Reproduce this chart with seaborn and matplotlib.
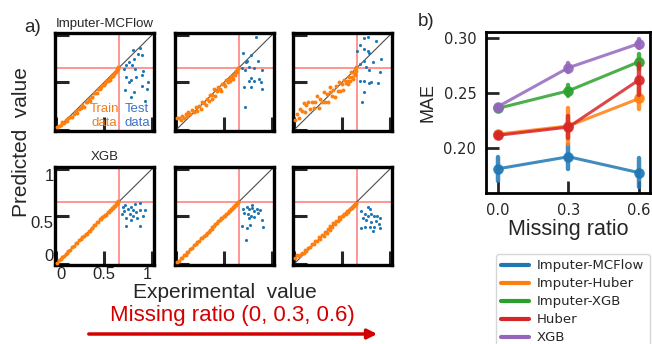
import pandas as pd
import matplotlib
matplotlib.use("Agg")
import matplotlib.pyplot as plt
import seaborn as sns
from matplotlib.lines import Line2D

# =========================
# DATA
# =========================

threshold = 0.655

# panel a) training points (experimental x shared, predicted y per panel)
train_x = [0.01, 0.03, 0.05, 0.06, 0.08, 0.10, 0.12, 0.13, 0.15, 0.17,
           0.19, 0.21, 0.22, 0.24, 0.26, 0.27, 0.29, 0.31, 0.32, 0.34,
           0.35, 0.37, 0.38, 0.40, 0.41, 0.43, 0.44, 0.46, 0.47, 0.48,
           0.50, 0.51, 0.52, 0.54, 0.55, 0.56, 0.57, 0.58, 0.59, 0.60,
           0.61, 0.62, 0.63, 0.64, 0.645, 0.65]

mcflow_00_train = [0.03, 0.04, 0.05, 0.08, 0.07, 0.11, 0.10, 0.13, 0.14, 0.14,
                   0.17, 0.20, 0.18, 0.22, 0.23, 0.26, 0.24, 0.29, 0.29, 0.33,
                   0.31, 0.35, 0.35, 0.39, 0.39, 0.39, 0.43, 0.43, 0.45, 0.47,
                   0.47, 0.49, 0.52, 0.52, 0.54, 0.53, 0.56, 0.58, 0.57, 0.59,
                   0.61, 0.61, 0.64, 0.63, 0.64, 0.66]
mcflow_03_train = [0.13, 0.13, 0.11, 0.15, 0.13, 0.17, 0.15, 0.19, 0.17, 0.21,
                   0.19, 0.24, 0.20, 0.25, 0.22, 0.29, 0.28, 0.26, 0.33, 0.31,
                   0.37, 0.33, 0.37, 0.43, 0.36, 0.41, 0.45, 0.43, 0.41, 0.48,
                   0.48, 0.46, 0.53, 0.51, 0.54, 0.52, 0.57, 0.56, 0.54, 0.59,
                   0.58, 0.62, 0.61, 0.63, 0.65, 0.65]
mcflow_06_train = [0.11, 0.17, 0.13, 0.22, 0.20, 0.28, 0.19, 0.26, 0.30, 0.22,
                   0.29, 0.23, 0.30, 0.36, 0.23, 0.33, 0.30, 0.40, 0.30, 0.38,
                   0.29, 0.40, 0.45, 0.36, 0.42, 0.35, 0.46, 0.41, 0.51, 0.41,
                   0.48, 0.42, 0.53, 0.49, 0.52, 0.48, 0.56, 0.52, 0.61, 0.56,
                   0.54, 0.60, 0.58, 0.64, 0.62, 0.66]
xgb_00_train = [0.01, 0.04, 0.05, 0.07, 0.08, 0.11, 0.12, 0.14, 0.15, 0.18,
                0.19, 0.22, 0.22, 0.25, 0.26, 0.28, 0.29, 0.32, 0.32, 0.35,
                0.35, 0.38, 0.38, 0.41, 0.41, 0.44, 0.44, 0.47, 0.47, 0.49,
                0.50, 0.52, 0.52, 0.55, 0.55, 0.57, 0.57, 0.59, 0.59, 0.61,
                0.61, 0.63, 0.63, 0.65, 0.65, 0.66]
xgb_03_train = [0.02, 0.03, 0.06, 0.06, 0.09, 0.10, 0.13, 0.13, 0.16, 0.17,
                0.20, 0.21, 0.23, 0.24, 0.27, 0.27, 0.30, 0.31, 0.33, 0.34,
                0.36, 0.37, 0.39, 0.40, 0.42, 0.43, 0.45, 0.46, 0.48, 0.48,
                0.51, 0.51, 0.53, 0.54, 0.56, 0.56, 0.58, 0.58, 0.60, 0.60,
                0.62, 0.62, 0.64, 0.64, 0.65, 0.65]
xgb_06_train = [0.06, 0.09, 0.08, 0.10, 0.12, 0.12, 0.15, 0.14, 0.17, 0.18,
                0.21, 0.21, 0.24, 0.24, 0.28, 0.26, 0.31, 0.30, 0.34, 0.33,
                0.37, 0.36, 0.40, 0.39, 0.43, 0.42, 0.45, 0.45, 0.49, 0.47,
                0.51, 0.50, 0.53, 0.53, 0.56, 0.55, 0.57, 0.58, 0.59, 0.59,
                0.61, 0.61, 0.62, 0.63, 0.63, 0.64]

# panel a) test points
mcflow_00_test_x = [0.80, 0.85, 0.87, 0.89, 0.81, 0.76, 0.79, 0.73, 0.71, 0.82, 0.91,
                    0.73, 0.78, 0.76, 0.89, 0.96, 0.81, 0.95, 0.72, 0.78, 0.93, 0.89, 0.83]
mcflow_00_test_y = [0.84, 0.80, 0.86, 0.79, 0.75, 0.71, 0.68, 0.68, 0.64, 0.64, 0.62,
                    0.56, 0.53, 0.50, 0.46, 0.50, 0.40, 0.43, 0.42, 0.35, 0.31, 0.58, 0.56]
mcflow_03_test_x = [0.83, 0.70, 0.78, 0.85, 0.73, 0.76, 0.69, 0.72, 0.81, 0.90,
                    0.78, 0.76, 0.81, 0.88, 0.86, 0.71, 0.78, 0.90, 0.72, 0.74]
mcflow_03_test_y = [0.98, 0.81, 0.79, 0.73, 0.71, 0.66, 0.65, 0.63, 0.65, 0.63,
                    0.55, 0.52, 0.52, 0.51, 0.54, 0.45, 0.45, 0.43, 0.24, 0.73]
mcflow_06_test_x = [0.73, 0.77, 0.85, 0.69, 0.73, 0.77, 0.66, 0.78, 0.91, 0.73, 0.82,
                    0.69, 0.75, 0.78, 0.89, 0.69, 0.73, 0.80, 0.87, 0.78, 0.73, 0.71]
mcflow_06_test_y = [0.97, 0.98, 0.94, 0.89, 0.85, 0.83, 0.83, 0.81, 0.75, 0.73, 0.71,
                    0.69, 0.66, 0.63, 0.61, 0.52, 0.52, 0.51, 0.49, 0.49, 0.40, 0.29]
xgb_00_test_x = [0.70, 0.72, 0.75, 0.78, 0.82, 0.87, 0.71, 0.77, 0.80, 0.83,
                 0.87, 0.91, 0.73, 0.78, 0.73, 0.87, 0.80, 0.84, 0.93, 0.69]
xgb_00_test_y = [0.60, 0.62, 0.58, 0.60, 0.63, 0.64, 0.56, 0.53, 0.57, 0.55,
                 0.57, 0.51, 0.48, 0.46, 0.40, 0.40, 0.50, 0.48, 0.57, 0.53]
xgb_03_test_x = [0.70, 0.74, 0.76, 0.79, 0.84, 0.87, 0.71, 0.75, 0.78, 0.81,
                 0.90, 0.69, 0.74, 0.77, 0.91, 0.73, 0.81, 0.85, 0.76, 0.79]
xgb_03_test_y = [0.58, 0.60, 0.58, 0.59, 0.58, 0.57, 0.54, 0.53, 0.51, 0.49,
                 0.46, 0.40, 0.38, 0.41, 0.39, 0.25, 0.56, 0.54, 0.48, 0.62]
xgb_06_test_x = [0.70, 0.74, 0.79, 0.77, 0.80, 0.83, 0.86, 0.90, 0.70, 0.74,
                 0.79, 0.83, 0.90, 0.82, 0.75, 0.80, 0.72, 0.85, 0.88, 0.77]
xgb_06_test_y = [0.56, 0.53, 0.58, 0.51, 0.53, 0.50, 0.51, 0.48, 0.38, 0.39,
                 0.39, 0.39, 0.38, 0.35, 0.46, 0.44, 0.48, 0.45, 0.42, 0.60]

# panel b) MAE vs missing ratio
ratios = [0.0, 0.3, 0.6]
models = ["Imputer-MCFlow", "Imputer-Huber", "Imputer-XGB", "Huber", "XGB"]
mae_mcflow = [0.181, 0.192, 0.1775]
err_mcflow = [0.011, 0.011, 0.013]
mae_imp_huber = [0.2125, 0.220, 0.245]
err_imp_huber = [0.002, 0.016, 0.010]
mae_imp_xgb = [0.236, 0.252, 0.2785]
err_imp_xgb = [0.002, 0.005, 0.007]
mae_huber = [0.2115, 0.219, 0.262]
err_huber = [0.002, 0.010, 0.014]
mae_xgb = [0.2375, 0.273, 0.295]
err_xgb = [0.002, 0.004, 0.004]

# =========================
# FIGURE SETUP
# =========================

sns.set_style("white")
plt.rcParams['font.family'] = ['DejaVu Sans']
ARIAL = ['Liberation Sans', 'DejaVu Sans']

W, H = 652, 344
fig = plt.figure(figsize=(W / 100, H / 100), dpi=100)


def px_axes(left, top, width, height):
    return fig.add_axes([left / W, 1 - (top + height) / H, width / W, height / H])


def px_text(x, y, s, **kw):
    fig.text(x / W, 1 - y / H, s, ha="center", va="center", **kw)


def draw_panel(ax, tr_y, te_x, te_y, labels=False):
    ax.axvline(threshold, color="red", alpha=0.45, lw=1.3, zorder=1)
    ax.axhline(threshold, color="red", alpha=0.45, lw=1.3, zorder=1)
    ax.plot([-0.01, 1.02], [-0.01, 1.02], color="0.3", lw=0.8, zorder=2)
    sns.scatterplot(x=train_x, y=tr_y, ax=ax, color="tab:orange", s=8,
                    linewidth=0, zorder=3)
    sns.scatterplot(x=te_x, y=te_y, ax=ax, color="tab:blue", s=5,
                    linewidth=0, zorder=3)
    ax.set_xlim(-0.01, 1.02)
    ax.set_ylim(-0.01, 1.02)
    ax.set_xticks([0, 0.5, 1])
    ax.set_yticks([0, 0.5, 1])
    ax.tick_params(direction="in", length=10, width=2.2, labelsize=12,
                   bottom=True, left=True)
    ax.tick_params(axis="x", pad=1.5)
    ax.tick_params(axis="y", pad=1)
    for sp in ax.spines.values():
        sp.set_linewidth(2.4)
        sp.set_color("black")
    if labels:
        xl = ax.set_xticklabels(["0", "0.5", "1"], family=ARIAL)
        yl = ax.set_yticklabels(["0", "0.5", "1"], family=ARIAL)
        xl[0].set_ha("left")
        xl[2].set_ha("right")
        xl[2].set_fontsize(11.5)
        yl[0].set_va("bottom")
        yl[1].set_va("top")
        yl[2].set_va("top")
    else:
        ax.set_xticklabels([])
        ax.set_yticklabels([])


# =========================
# PANEL A: SCATTER GRID
# =========================

col_left = [55, 175, 293]
row_top = [33, 167]
panels = [
    (0, 0, mcflow_00_train, mcflow_00_test_x, mcflow_00_test_y),
    (0, 1, mcflow_03_train, mcflow_03_test_x, mcflow_03_test_y),
    (0, 2, mcflow_06_train, mcflow_06_test_x, mcflow_06_test_y),
    (1, 0, xgb_00_train, xgb_00_test_x, xgb_00_test_y),
    (1, 1, xgb_03_train, xgb_03_test_x, xgb_03_test_y),
    (1, 2, xgb_06_train, xgb_06_test_x, xgb_06_test_y),
]
for r, c, tr, tx, ty in panels:
    ax = px_axes(col_left[c], row_top[r], 99, 98)
    draw_panel(ax, tr, tx, ty, labels=(r == 1 and c == 0))

px_text(33, 27, "a)", fontsize=13.5, family=ARIAL)
px_text(105, 24, "Imputer-MCFlow", fontsize=9.5, family=ARIAL)
px_text(105, 157, "XGB", fontsize=9.5, family=ARIAL)
px_text(104, 116, "Train\ndata", fontsize=9.5, color="#f07f1e",
        family=ARIAL, linespacing=1.15)
px_text(137, 116, "Test\ndata", fontsize=9.5, color="#3f72c8",
        family=ARIAL, linespacing=1.15)
px_text(22, 142, "Predicted  value", fontsize=15, rotation=90, family=ARIAL)
px_text(225, 292, "Experimental  value", fontsize=15, family=ARIAL)
px_text(232, 315, "Missing ratio (0, 0.3, 0.6)", fontsize=16,
        color="#d40000", family=ARIAL)
fig.add_artist(matplotlib.patches.FancyArrowPatch(
    (86 / W, 1 - 334 / H), (380 / W, 1 - 334 / H),
    transform=fig.transFigure, arrowstyle="-|>", mutation_scale=14,
    color="#d40000", lw=2.5))

# =========================
# PANEL B: MAE POINTPLOT
# =========================

rows = []
for name, means, errs in zip(models,
                             [mae_mcflow, mae_imp_huber, mae_imp_xgb, mae_huber, mae_xgb],
                             [err_mcflow, err_imp_huber, err_imp_xgb, err_huber, err_xgb]):
    for ratio, m, e in zip(ratios, means, errs):
        rows.append({"model": name, "ratio": ratio, "mae": m - e})
        rows.append({"model": name, "ratio": ratio, "mae": m + e})
df = pd.DataFrame(rows)

palette = ["tab:blue", "tab:orange", "tab:green", "tab:red", "tab:purple"]
axb = px_axes(486, 32, 164, 161)
sns.pointplot(data=df, x="ratio", y="mae", hue="model", hue_order=models,
              palette=palette, native_scale=True, estimator="mean",
              errorbar=("pi", 100), dodge=False, legend=False, ax=axb,
              markersize=6, linewidth=2.2, alpha=0.85,
              err_kws={"linewidth": 3.2, "alpha": 0.85})
axb.set_xlim(-0.05, 0.646)
axb.set_ylim(0.159, 0.3055)
axb.set_xticks(ratios)
axb.set_xticklabels(["0.0", "0.3", "0.6"])
axb.set_yticks([0.20, 0.25, 0.30])
axb.set_yticklabels(["0.20", "0.25", "0.30"])
axb.tick_params(direction="in", length=9, width=2, labelsize=10.5,
                bottom=True, left=True, pad=7)
for sp in axb.spines.values():
    sp.set_linewidth(2)
    sp.set_color("black")
axb.set_xlabel("Missing ratio", fontsize=15.5, family=ARIAL, labelpad=1)
axb.set_ylabel("MAE", fontsize=13, family=ARIAL)
axb.yaxis.set_label_coords(-0.30, 0.56)
px_text(426, 22, "b)", fontsize=13.5, family=ARIAL)

handles = [Line2D([0], [0], color=c, lw=3) for c in palette]
fig.legend(handles, models, loc="upper left",
           bbox_to_anchor=(496 / W, 1 - 254 / H), borderaxespad=0,
           fontsize=9.5, handlelength=2.1, labelspacing=0.38, frameon=True,
           borderpad=0.4, handletextpad=0.6)

plt.savefig("out.png", dpi=100)
